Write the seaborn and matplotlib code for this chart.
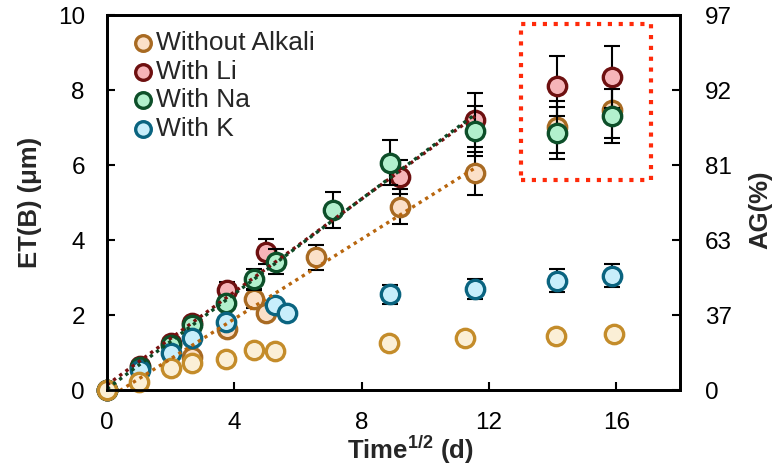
import numpy as np
import matplotlib
matplotlib.use("Agg")
import matplotlib.pyplot as plt
from matplotlib.patches import Rectangle
import seaborn as sns

# ---- data: erosion thickness ET(B) in µm versus square root of time ----
t_plain = [0, 2.67, 3.77, 4.61, 5.00, 6.57, 9.21, 11.57, 14.14, 15.87]
et_plain = [0, 0.89, 1.64, 2.44, 2.06, 3.54, 4.89, 5.78, 7.02, 7.48]
err_plain = [0, 0, 0, 0.26, 0, 0.34, 0.47, 0.58, 0.70, 0.75]

t_li = [0, 1.04, 2.00, 2.67, 3.77, 4.98, 9.21, 11.57, 14.14, 15.87]
et_li = [0, 0.65, 1.25, 1.78, 2.67, 3.69, 5.69, 7.20, 8.12, 8.34]
err_li = [0, 0, 0, 0, 0.22, 0.33, 0.45, 0.71, 0.80, 0.83]

t_na = [0, 1.04, 2.00, 2.67, 3.74, 4.61, 5.31, 7.10, 8.89, 11.57, 14.14, 15.87]
et_na = [0, 0.62, 1.20, 1.73, 2.33, 2.95, 3.42, 4.80, 6.06, 6.91, 6.86, 7.31]
err_na = [0, 0, 0, 0, 0, 0.29, 0.33, 0.49, 0.60, 0.66, 0.70, 0.73]

t_k = [0, 1.04, 2.00, 2.67, 3.74, 5.29, 5.66, 8.88, 11.57, 14.14, 15.87]
et_k = [0, 0.53, 0.98, 1.38, 1.82, 2.27, 2.06, 2.55, 2.69, 2.92, 3.05]
err_k = [0, 0, 0, 0, 0, 0, 0, 0.26, 0.27, 0.30, 0.30]

# lower reference set (no legend entry)
t_base = [0, 1.00, 2.00, 2.67, 3.75, 4.61, 5.29, 8.86, 11.24, 14.09, 15.92]
et_base = [0, 0.22, 0.58, 0.71, 0.84, 1.07, 1.04, 1.26, 1.38, 1.44, 1.49]

y_ticks = [0, 2, 4, 6, 8, 10]
x_ticks = [0, 4, 8, 12, 16]
ag_labels = ["0", "37", "63", "81", "92", "97"]

# ---- style ----
sns.set_theme(style="ticks")
plt.rcParams["font.family"] = ["Liberation Sans", "DejaVu Sans"]
plt.rcParams["mathtext.fontset"] = "custom"
plt.rcParams["mathtext.rm"] = "Liberation Sans"
plt.rcParams["mathtext.bf"] = "Liberation Sans:bold"

fig = plt.figure(figsize=(7.8, 4.65), dpi=100)
ax = fig.add_axes([107 / 780, 75 / 465, 573 / 780, 375 / 465])

series = [
    dict(t=t_plain, y=et_plain, e=err_plain, face="#fbe0c8", edge="#a86a22", label="Without Alkali", z=3),
    dict(t=t_li, y=et_li, e=err_li, face="#f6b4b8", edge="#6e1010", label="With Li", z=4),
    dict(t=t_na, y=et_na, e=err_na, face="#b2f0cd", edge="#0d4f29", label="With Na", z=5),
    dict(t=t_k, y=et_k, e=err_k, face="#c8eefb", edge="#0a6480", label="With K", z=6),
]

MS = 175
for s in series:
    ax.errorbar(s["t"], s["y"], yerr=s["e"], fmt="none", ecolor="black",
                elinewidth=1.5, capsize=5.5, capthick=1.5, zorder=s["z"] - 0.5)
    sns.scatterplot(x=s["t"], y=s["y"], ax=ax, s=MS, color=s["face"],
                    edgecolor=s["edge"], linewidth=2.4, zorder=s["z"],
                    label=s["label"], clip_on=False)

sns.scatterplot(x=t_base, y=et_base, ax=ax, s=MS, color="#fbefd6",
                edgecolor="#c48c2a", linewidth=2.4, zorder=7, label="_nolegend_",
                clip_on=False)

# linear fits over the early (t <= 12) part of each series
def fit_line(t, y, color):
    t = np.asarray(t)
    y = np.asarray(y)
    m = t <= 12
    sns.regplot(x=t[m], y=y[m], ax=ax, scatter=False, ci=None, truncate=True,
                line_kws=dict(color=color, linestyle=(0, (1, 1.3)),
                              linewidth=2.4, zorder=10))

fit_line(t_plain, et_plain, "#b8660e")
fit_line(t_li, et_li, "#7a1010")
fit_line(t_na, et_na, "#0d4a26")

# highlighted late-time group
ax.add_patch(Rectangle((12.99, 5.6), 4.1, 4.15, fill=False, edgecolor="#ff2a0a",
                       linewidth=3.0, linestyle=(0, (1, 1.6)), capstyle="butt",
                       zorder=11, clip_on=False))

ax.set_xlim(0, 18)
ax.set_ylim(0, 10)
ax.set_xticks(x_ticks)
ax.set_yticks(y_ticks)
ax.tick_params(axis="both", direction="in", length=6, width=1.5,
               labelsize=17.5, pad=16, colors="black")
ax.tick_params(axis="y", right=False)
for sp in ax.spines.values():
    sp.set_visible(True)
    sp.set_linewidth(2)
    sp.set_color("black")

ax.set_xlabel(r"Time$^{\mathbf{1/2}}$ (d)", fontsize=18.5, fontweight="bold")
ax.set_ylabel("ET(B) (μm)", fontsize=18.5, fontweight="bold")
ax.xaxis.set_label_coords(0.53, -0.115)
ax.yaxis.set_label_coords(-0.113, 0.5)

ax2 = ax.twinx()
ax2.set_ylim(0, 10)
ax2.set_yticks(y_ticks)
ax2.set_yticklabels(ag_labels)
ax2.tick_params(axis="y", direction="in", length=6, width=1.5,
                labelsize=17.5, pad=18, colors="black")
ax2.set_ylabel("AG(%)", fontsize=18.5, fontweight="bold")
ax2.yaxis.set_label_coords(1.12, 0.48)
for sp in ax2.spines.values():
    sp.set_linewidth(2)
    sp.set_color("black")

ax.legend(loc="upper left", bbox_to_anchor=(0.046, 0.957), frameon=False,
          handlelength=0.7, handletextpad=0.15, labelspacing=0.17,
          borderpad=0, borderaxespad=0, prop=dict(size=19), markerscale=0.85)

fig.savefig("out.png", dpi=100, facecolor="white")
